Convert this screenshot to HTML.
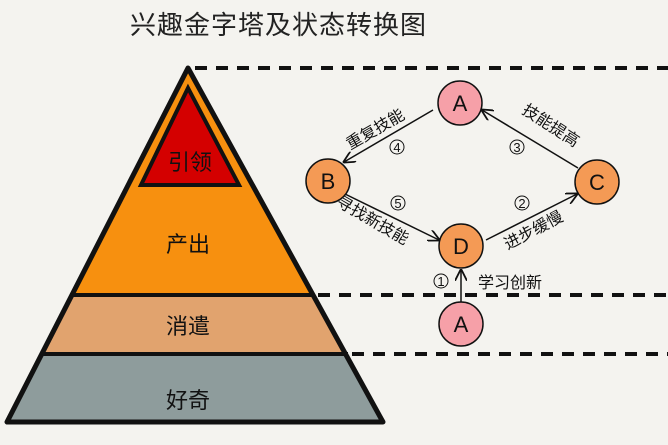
<!DOCTYPE html>
<html><head><meta charset="utf-8"><style>
body{margin:0;background:#f4f3ef;}
svg{display:block;font-family:"Liberation Sans","Noto Sans CJK SC",sans-serif;}
</style></head><body>
<svg width="668" height="445" viewBox="0 0 668 445" xmlns="http://www.w3.org/2000/svg">
<rect width="668" height="445" fill="#f4f3ef"/>
<text x="130" y="34" font-size="26" fill="#222" letter-spacing="1">兴趣金字塔及状态转换图</text>
<defs><clipPath id="tri"><polygon points="188,68 7,422 383,422"/></clipPath>
<marker id="ar" viewBox="0 0 10 10" refX="9" refY="5" markerWidth="8" markerHeight="8" orient="auto"><path d="M0,0 L10,5 L0,10" fill="none" stroke="#111" stroke-width="1.5"/></marker></defs>
<g clip-path="url(#tri)">
<rect x="0" y="60" width="450" height="235" fill="#f7900f"/>
<rect x="0" y="295" width="450" height="59" fill="#e1a36e"/>
<rect x="0" y="354" width="450" height="100" fill="#8e9c9c"/>
</g>
<polygon points="188,68 7,422 383,422" fill="none" stroke="#111" stroke-width="5" stroke-linejoin="round"/>
<line x1="70" y1="295" x2="314" y2="295" stroke="#111" stroke-width="4"/>
<line x1="40" y1="354" x2="348" y2="354" stroke="#111" stroke-width="4"/>
<polygon points="188,88 141,185 239,185" fill="#d40000" stroke="#111" stroke-width="4"/>
<g stroke="#111" stroke-width="4" stroke-dasharray="12,9">
<line x1="195" y1="68" x2="668" y2="68"/>
<line x1="318" y1="295" x2="668" y2="295"/>
<line x1="352" y1="354" x2="668" y2="354"/>
</g>
<g font-size="22" fill="#111" text-anchor="middle">
<text x="190" y="170">引领</text>
<text x="188" y="252">产出</text>
<text x="188" y="334">消遣</text>
<text x="188" y="408">好奇</text>
</g>
<g stroke="#111" stroke-width="1.5" marker-end="url(#ar)">
<line x1="433" y1="110" x2="344" y2="162"/>
<line x1="578" y1="168" x2="482" y2="110"/>
<line x1="345" y1="194" x2="439" y2="240"/>
<line x1="486" y1="240" x2="577" y2="194"/>
<line x1="461" y1="302" x2="461" y2="270"/>
</g>
<g stroke="#111" stroke-width="1.5">
<circle cx="460" cy="103" r="22" fill="#f6a0a8"/>
<circle cx="328" cy="181" r="22" fill="#f49a55"/>
<circle cx="597" cy="182" r="22" fill="#f49a55"/>
<circle cx="461" cy="246" r="22" fill="#f49a55"/>
<circle cx="461" cy="324" r="22" fill="#f6a0a8"/>
</g>
<g font-size="22" fill="#111" text-anchor="middle">
<text x="460" y="111">A</text><text x="328" y="189">B</text><text x="597" y="190">C</text><text x="461" y="254">D</text><text x="461" y="332">A</text>
</g>
<g font-size="13" fill="#111" text-anchor="middle">
<circle cx="397" cy="147" r="7" fill="none" stroke="#111"/><text x="397" y="152">4</text>
<circle cx="517" cy="147" r="7" fill="none" stroke="#111"/><text x="517" y="152">3</text>
<circle cx="398" cy="203" r="7" fill="none" stroke="#111"/><text x="398" y="208">5</text>
<circle cx="522" cy="203" r="7" fill="none" stroke="#111"/><text x="522" y="208">2</text>
<circle cx="441" cy="281" r="7" fill="none" stroke="#111"/><text x="441" y="286">1</text>
</g>
<g font-size="16" fill="#111" text-anchor="middle">
<text transform="translate(378,134) rotate(-30)">重复技能</text>
<text transform="translate(548,130) rotate(33)">技能提高</text>
<text transform="translate(370,225) rotate(30)">寻找新技能</text>
<text transform="translate(536,235) rotate(-28)">进步缓慢</text>
<text x="510" y="288">学习创新</text>
</g>
</svg>
</body></html>
